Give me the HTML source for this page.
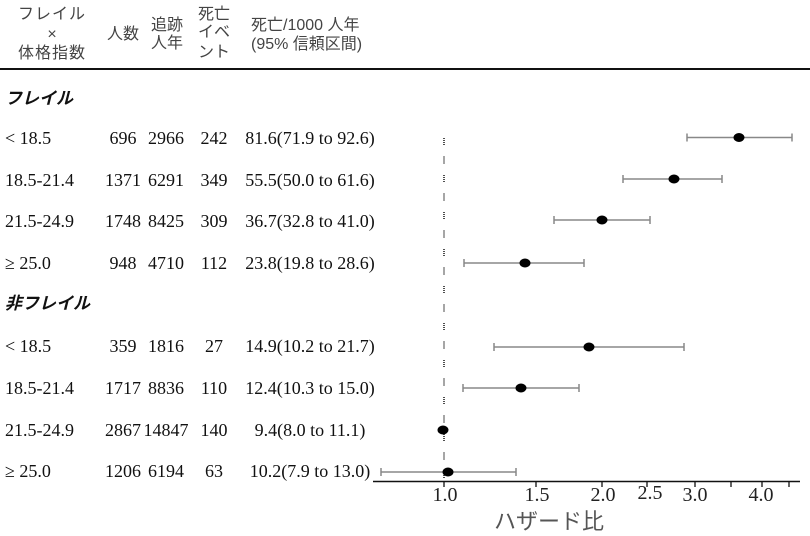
<!DOCTYPE html>
<html><head><meta charset="utf-8"><style>
html,body{margin:0;padding:0;background:#fff;}
svg{display:block;}
.h{font-family:"Liberation Sans","Noto Sans CJK JP",sans-serif;font-size:16px;fill:#444;}
.d{font-family:"Liberation Serif","Noto Serif CJK SC",serif;font-size:18px;fill:#111;}
.s{font-family:"Noto Sans CJK JP",sans-serif;font-size:17px;font-weight:bold;font-style:italic;fill:#111;}
.ax{font-family:"Liberation Serif",serif;font-size:20px;fill:#222;}
.xl{font-family:"Noto Sans CJK JP",sans-serif;font-size:22px;fill:#555;}
</style></head><body>
<svg width="810" height="536" viewBox="0 0 810 536" xmlns="http://www.w3.org/2000/svg">
<!-- header -->
<text class="h" x="52" y="19" text-anchor="middle" letter-spacing="1">フレイル</text>
<text class="h" x="52" y="39" text-anchor="middle">×</text>
<text class="h" x="52" y="58" text-anchor="middle" letter-spacing="1">体格指数</text>
<text class="h" x="123" y="39" text-anchor="middle">人数</text>
<text class="h" x="167" y="30" text-anchor="middle">追跡</text>
<text class="h" x="167" y="48" text-anchor="middle">人年</text>
<text class="h" x="214" y="19" text-anchor="middle">死亡</text>
<text class="h" x="214" y="37" text-anchor="middle">イベ</text>
<text class="h" x="214" y="57" text-anchor="middle">ント</text>
<text class="h" x="251" y="30">死亡/1000 人年</text>
<text class="h" x="251" y="49">(95% 信頼区間)</text>
<line x1="0" y1="69" x2="810" y2="69" stroke="#111" stroke-width="2"/>

<!-- section titles -->
<text class="s" x="5" y="104">フレイル</text>
<text class="s" x="5" y="309">非フレイル</text>

<!-- rows -->
<g class="d">
<text x="5" y="144">&lt; 18.5</text>
<text x="123" y="144" text-anchor="middle">696</text>
<text x="166" y="144" text-anchor="middle">2966</text>
<text x="214" y="144" text-anchor="middle">242</text>
<text x="310" y="144" text-anchor="middle">81.6(71.9 to 92.6)</text>

<text x="5" y="186">18.5-21.4</text>
<text x="123" y="186" text-anchor="middle">1371</text>
<text x="166" y="186" text-anchor="middle">6291</text>
<text x="214" y="186" text-anchor="middle">349</text>
<text x="310" y="186" text-anchor="middle">55.5(50.0 to 61.6)</text>

<text x="5" y="227">21.5-24.9</text>
<text x="123" y="227" text-anchor="middle">1748</text>
<text x="166" y="227" text-anchor="middle">8425</text>
<text x="214" y="227" text-anchor="middle">309</text>
<text x="310" y="227" text-anchor="middle">36.7(32.8 to 41.0)</text>

<text x="5" y="269">≥ 25.0</text>
<text x="123" y="269" text-anchor="middle">948</text>
<text x="166" y="269" text-anchor="middle">4710</text>
<text x="214" y="269" text-anchor="middle">112</text>
<text x="310" y="269" text-anchor="middle">23.8(19.8 to 28.6)</text>

<text x="5" y="352">&lt; 18.5</text>
<text x="123" y="352" text-anchor="middle">359</text>
<text x="166" y="352" text-anchor="middle">1816</text>
<text x="214" y="352" text-anchor="middle">27</text>
<text x="310" y="352" text-anchor="middle">14.9(10.2 to 21.7)</text>

<text x="5" y="394">18.5-21.4</text>
<text x="123" y="394" text-anchor="middle">1717</text>
<text x="166" y="394" text-anchor="middle">8836</text>
<text x="214" y="394" text-anchor="middle">110</text>
<text x="310" y="394" text-anchor="middle">12.4(10.3 to 15.0)</text>

<text x="5" y="436">21.5-24.9</text>
<text x="123" y="436" text-anchor="middle">2867</text>
<text x="166" y="436" text-anchor="middle">14847</text>
<text x="214" y="436" text-anchor="middle">140</text>
<text x="310" y="436" text-anchor="middle">9.4(8.0 to 11.1)</text>

<text x="5" y="477">≥ 25.0</text>
<text x="123" y="477" text-anchor="middle">1206</text>
<text x="166" y="477" text-anchor="middle">6194</text>
<text x="214" y="477" text-anchor="middle">63</text>
<text x="310" y="477" text-anchor="middle">10.2(7.9 to 13.0)</text>
</g>

<!-- reference line -->
<line x1="444" y1="138" x2="444" y2="478" stroke="#222" stroke-width="1.6" stroke-dasharray="1 1 1 1 1 1 1 11.5"/>

<!-- CIs -->
<g stroke="#888" stroke-width="1.5" fill="none">
<path d="M687 137.5H792M687 133.5V141.5M792 133.5V141.5"/>
<path d="M623 179H722M623 175V183M722 175V183"/>
<path d="M554 220H650M554 216V224M650 216V224"/>
<path d="M464 263H584M464 259V267M584 259V267"/>
<path d="M494 347H684M494 343V351M684 343V351"/>
<path d="M463 388H579M463 384V392M579 384V392"/>
<path d="M440 430H446"/>
<path d="M381 472H516M381 468V476M516 468V476"/>
</g>
<g fill="#000">
<ellipse cx="739" cy="137.5" rx="5.5" ry="4.5"/>
<ellipse cx="674" cy="179" rx="5.5" ry="4.5"/>
<ellipse cx="602" cy="220" rx="5.5" ry="4.5"/>
<ellipse cx="525" cy="263" rx="5.5" ry="4.5"/>
<ellipse cx="589" cy="347" rx="5.5" ry="4.5"/>
<ellipse cx="521" cy="388" rx="5.5" ry="4.5"/>
<ellipse cx="443" cy="430" rx="5.5" ry="4.5"/>
<ellipse cx="448" cy="472" rx="5.5" ry="4.5"/>
</g>

<!-- axis -->
<line x1="373" y1="481.5" x2="800" y2="481.5" stroke="#111" stroke-width="1.5"/>
<g stroke="#111" stroke-width="1.3">
<line x1="444" y1="481" x2="444" y2="487"/>
<line x1="536" y1="481" x2="536" y2="487"/>
<line x1="602" y1="481" x2="602" y2="487"/>
<line x1="647" y1="481" x2="647" y2="487"/>
<line x1="695" y1="481" x2="695" y2="487"/>
<line x1="731" y1="481" x2="731" y2="487"/>
<line x1="762" y1="481" x2="762" y2="487"/>
<line x1="789" y1="481" x2="789" y2="487"/>
</g>
<g class="ax" text-anchor="middle">
<text x="445" y="501">1.0</text>
<text x="537" y="501">1.5</text>
<text x="603" y="501">2.0</text>
<text x="650" y="499">2.5</text>
<text x="695" y="501">3.0</text>
<text x="761" y="501">4.0</text>
</g>
<text class="xl" x="549" y="529" text-anchor="middle">ハザード比</text>
</svg>
</body></html>
